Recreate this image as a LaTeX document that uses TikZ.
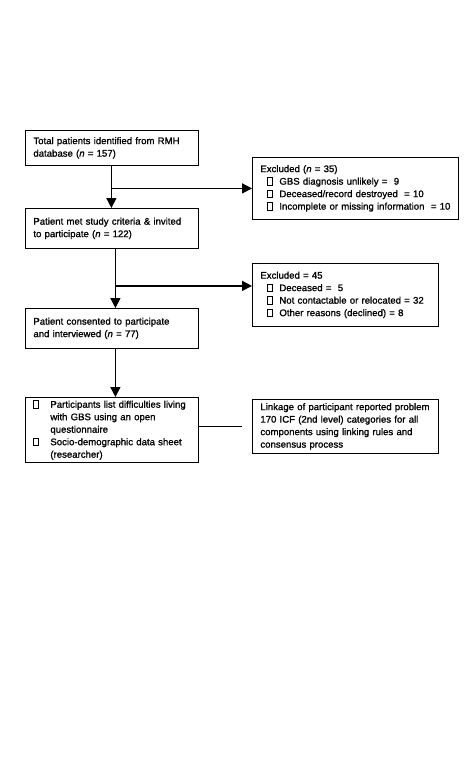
\documentclass[tikz,border=0pt]{standalone}
\usepackage{fontspec}
\setmainfont{Liberation Sans}
\newfontfamily\heavysans[FakeBold=1.2]{Liberation Sans}
\usetikzlibrary{arrows.meta,positioning}
\newcommand{\flowfont}{\heavysans\fontsize{9.6}{12.5}\selectfont}
\newcommand{\gapbox}{{\setlength{\fboxsep}{0pt}\setlength{\fboxrule}{0.6pt}\fbox{\rule{0pt}{7pt}\hspace{4pt}}}}
\newcommand{\bulcol}[1]{\makebox[#1][l]{\gapbox}}
\tikzset{
  flowbox/.style={draw,line width=0.8pt,anchor=north west,align=left,
    inner xsep=8pt,inner ysep=2pt,font=\flowfont},
  flowarrow/.style={line width=1.5pt,-{Triangle[length=10pt,width=10pt]}},
}
\begin{document}
\begin{tikzpicture}[x=1pt,y=1pt]
  \useasboundingbox (0,0) rectangle (467,-777);
  % main column
  \node[flowbox,text width=157pt,minimum height=35pt] (total) at (25,-130)
    {Total patients identified from RMH\\database (\textit{n} = 157)};
  \node[flowbox,text width=157pt,minimum height=40pt] (invited) at (25,-208)
    {Patient met study criteria \& invited\\to participate (\textit{n} = 122)};
  \node[flowbox,text width=157pt,minimum height=40pt] (consent) at (25,-308)
    {Patient consented to participate\\and interviewed (\textit{n} = 77)};
  \node[flowbox,text width=157pt,minimum height=65pt] (survey) at (25,-397)
    {\bulcol{17pt}\mbox{Participants list difficulties living}\\
     \hspace*{17pt}with GBS using an open\\
     \hspace*{17pt}questionnaire\\
     \bulcol{17pt}Socio-demographic data sheet\\
     \hspace*{17pt}(researcher)};
  % side boxes
  \node[flowbox,text width=190pt,minimum height=62pt] (excl1) at (252,-157)
    {Excluded (\textit{n} = 35)\\
     \hspace*{7pt}\bulcol{12pt}GBS diagnosis unlikely =~ 9\\
     \hspace*{7pt}\bulcol{12pt}Deceased/record destroyed~ = 10\\
     \hspace*{7pt}\bulcol{12pt}\mbox{Incomplete or missing information~ = 10}};
  \node[flowbox,text width=170pt,minimum height=63pt] (excl2) at (252,-263)
    {Excluded = 45\\
     \hspace*{7pt}\bulcol{12pt}Deceased =~ 5\\
     \hspace*{7pt}\bulcol{12pt}Not contactable or relocated = 32\\
     \hspace*{7pt}\bulcol{12pt}Other reasons (declined) = 8};
  \node[flowbox,text width=170pt,minimum height=54pt] (linkage) at (252,-399)
    {Linkage of participant reported problem\\170 ICF (2nd level) categories for all\\components using linking rules and\\consensus process};
  % arrows
  \coordinate (excl2in) at ([yshift=9pt]excl2.west);
  \draw[flowarrow] ([xshift=-0.5pt]total.south) -- ([xshift=-0.5pt]invited.north);
  \draw[flowarrow] ([xshift=-0.5pt]total.south |- excl1.west) -- (excl1.west);
  \draw[flowarrow] ([xshift=3.5pt]invited.south) -- ([xshift=3.5pt]consent.north);
  \draw[flowarrow] ([xshift=3.5pt]invited.south |- excl2in) -- (excl2in);
  \draw[flowarrow] ([xshift=3.5pt]consent.south) -- ([xshift=3.5pt]survey.north);
  \draw[line width=0.8pt] (survey.east |- linkage.west) -- ([xshift=-10pt]linkage.west);
\end{tikzpicture}
\end{document}
